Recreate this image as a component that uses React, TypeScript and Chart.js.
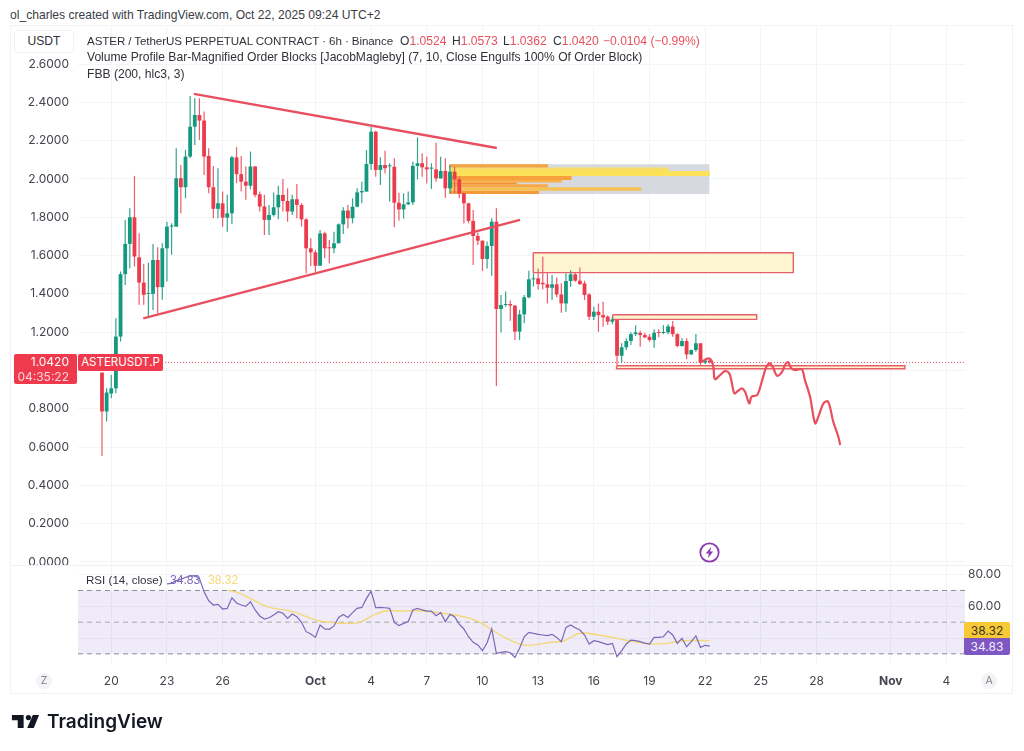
import React, { useEffect, useRef } from "react";
import { Chart, registerables } from "chart.js";

Chart.register(...registerables);

// Candles: 6h bars, index 0 = 19 Sep 12:00
const open = [0.989,0.786,0.88,0.907,1.177,1.503,1.661,1.8,1.591,1.459,1.4,1.4,1.577,1.435,1.638,1.751,1.751,2.004,1.957,2.117,2.273,2.334,2.305,2.12,1.957,1.844,1.873,1.798,1.821,2.113,2.025,1.986,1.965,2.065,1.92,1.856,1.786,1.812,1.852,1.917,1.885,1.83,1.894,1.864,1.789,1.638,1.617,1.547,1.716,1.641,1.638,1.664,1.763,1.835,1.795,1.855,1.93,1.934,2.078,2.247,2.047,2.073,2.066,2.064,1.876,1.841,1.868,1.878,2.068,2.082,2.061,2.054,2.05,2.003,2.042,1.951,2.038,1.998,1.925,1.873,1.781,1.702,1.678,1.582,1.65,1.777,1.321,1.342,1.347,1.339,1.203,1.293,1.382,1.476,1.481,1.458,1.45,1.432,1.45,1.397,1.35,1.467,1.502,1.469,1.455,1.397,1.281,1.307,1.289,1.281,1.255,1.263,1.077,1.121,1.154,1.19,1.196,1.185,1.176,1.159,1.2,1.196,1.199,1.23,1.19,1.128,1.154,1.084,1.107,1.142,1.041,1.0524];
const close = [0.786,0.885,0.907,1.177,1.503,1.661,1.8,1.595,1.459,1.395,1.403,1.577,1.435,1.638,1.751,1.757,2.004,1.957,2.117,2.273,2.334,2.305,2.117,1.957,1.844,1.873,1.798,1.821,2.113,2.025,1.986,1.965,2.065,1.917,1.856,1.786,1.812,1.852,1.917,1.885,1.83,1.894,1.865,1.789,1.638,1.617,1.547,1.716,1.638,1.638,1.664,1.763,1.835,1.795,1.855,1.93,1.937,2.078,2.247,2.047,2.073,2.056,2.069,1.876,1.841,1.868,1.878,2.068,2.082,2.061,2.05,2.057,2.003,2.042,1.951,2.038,1.998,1.925,1.873,1.781,1.702,1.678,1.582,1.65,1.777,1.321,1.342,1.347,1.339,1.203,1.293,1.382,1.476,1.481,1.451,1.45,1.432,1.45,1.397,1.35,1.467,1.502,1.469,1.451,1.394,1.281,1.307,1.289,1.277,1.255,1.267,1.077,1.121,1.154,1.19,1.199,1.185,1.173,1.159,1.197,1.196,1.199,1.23,1.19,1.128,1.154,1.084,1.107,1.142,1.041,1.052,1.042];
const high = [0.989,0.907,0.977,1.273,1.517,1.786,1.847,2.016,1.717,1.556,1.563,1.661,1.644,1.664,1.777,1.769,2.16,2.073,2.152,2.433,2.421,2.421,2.352,2.16,2.068,2.056,1.934,1.917,2.12,2.166,2.12,2.065,2.143,2.068,1.934,1.917,1.864,1.929,1.964,2.0,1.951,1.917,1.974,1.873,1.795,1.69,1.629,1.734,1.725,1.681,1.725,1.768,1.852,1.864,1.899,1.951,1.986,2.151,2.273,2.252,2.113,2.148,2.082,2.108,1.928,1.925,1.934,2.09,2.217,2.134,2.116,2.082,2.189,2.116,2.108,2.073,2.064,2.012,1.925,1.876,1.838,1.72,1.678,1.673,1.795,1.847,1.394,1.412,1.365,1.339,1.316,1.394,1.521,1.507,1.533,1.594,1.51,1.498,1.486,1.455,1.507,1.524,1.51,1.538,1.469,1.403,1.333,1.35,1.359,1.289,1.281,1.269,1.142,1.168,1.199,1.236,1.208,1.197,1.19,1.215,1.215,1.237,1.242,1.258,1.194,1.168,1.168,1.11,1.19,1.142,1.058,1.0573];
const low = [0.554,0.733,0.855,0.881,1.151,1.447,1.534,1.543,1.343,1.343,1.285,1.316,1.299,1.369,1.464,1.604,1.751,1.821,1.899,2.108,2.178,2.204,2.021,1.925,1.795,1.795,1.751,1.725,1.765,1.978,1.934,1.891,1.946,1.905,1.83,1.708,1.708,1.804,1.79,1.83,1.777,1.812,1.795,1.751,1.507,1.546,1.513,1.547,1.586,1.56,1.612,1.664,1.713,1.742,1.768,1.852,1.873,1.934,2.047,2.012,1.969,2.029,1.882,1.748,1.782,1.793,1.864,1.864,1.998,2.012,1.977,1.948,1.986,2.003,1.902,1.925,1.928,1.899,1.768,1.768,1.551,1.655,1.52,1.533,1.495,0.919,1.198,1.333,1.26,1.159,1.159,1.246,1.377,1.438,1.423,1.423,1.35,1.368,1.382,1.302,1.307,1.437,1.463,1.446,1.368,1.263,1.263,1.202,1.229,1.237,1.242,1.028,1.041,1.107,1.133,1.18,1.124,1.168,1.15,1.119,1.173,1.19,1.189,1.176,1.121,1.124,1.06,1.081,1.098,1.028,1.034,1.0362];

// RSI(14), one value per bar from bar 14
const rsiFirstBar = 14;
const rsiValues = [74.1,74.5,76.2,77,78.3,79.1,79.3,77.6,69.2,63.5,60.8,61.2,58.3,58.7,65.4,62.1,60.8,60,62.9,57.7,53.9,52,52.8,54.5,56.6,55.6,52.4,55.1,53.5,49.9,44,42.5,40.4,48.2,45.7,45.5,47.6,53,54.9,53,56,58.7,59.3,65,69.6,59.1,59.3,59.1,58.7,49.9,47.8,49.2,50.3,57.7,58.7,57.7,57,57,54.1,56,50.3,54.9,53.4,48.8,45.7,40.8,37.3,35.6,32,37,45.7,30.3,30.9,31.4,30.7,27.7,33.5,40.8,43.6,42.9,42.3,41.9,41.5,42.3,40.4,37.7,46.7,48.2,46.5,45,41.9,36.2,38.3,37.7,36.8,35.8,36.6,28.2,32,36.2,38.7,38.3,37.7,36.8,36.2,40.4,40.4,40.8,44.4,41.9,36.6,39.8,34.5,37.7,41.3,34.1,35.4,34.83];
// RSI moving average
const smaBars = [27.2,29.7,32.6,35.5,38.4,41.2,44.1,47,49.9,52.7,55.6,58.5,61.4,64.2,67.8,70.7,73.6,77.2,79.3,81.5,84.3,87.2,90.8,93.7,96.6,99.5,103,107.3,110.9,114.5,118.2,121.7,125.3,131];
const smaValues = [70.3,68.2,64,59.8,58.1,56.6,53.4,50.7,49.7,49.2,49.9,54.5,57.2,57,57.2,56.6,55.6,53.9,52.4,49.9,44.6,39.8,35.6,35.8,37.3,38.1,43,41.7,39.8,37.7,36.2,36.6,38.3,38.32];

// Hand-drawn forecast path
const forecastBars = [129.2,130.7,131.4,131.8,132.1,133.2,134.3,135.2,135.7,136.3,137.1,137.9,138.6,139.5,140,141.2,142.2,143.2,144,144.7,145.5,146.5,147.2,147.8,148.6,149.4,150.8,151.5,152.6,153.7,154.4,155.5,156.5,157.6,158.7,159.1];
const forecastPrices = [1.046,1.063,1.051,1.011,0.955,0.976,0.997,0.985,0.941,0.881,0.894,0.907,0.889,0.828,0.863,0.872,0.941,1.02,1.037,1.011,0.973,0.99,1.028,1.044,1.011,1.002,1.006,0.95,0.863,0.724,0.759,0.828,0.837,0.733,0.654,0.611];

// Triangle trend lines
const upperTrendBars = [19.8, 85.1];
const upperTrendPrices = [2.444, 2.162];
const lowerTrendBars = [8.9, 90.1];
const lowerTrendPrices = [1.272, 1.786];

// Order-block rectangles
const zoneStart = [92.95, 110.06, 110.9];
const zoneEnd = [149.0, 141.1, 173.06];
const zoneTop = [1.615, 1.291, 1.025];
const zoneBottom = [1.511, 1.267, 1.009];

// Volume-profile rows
const profileStart = 74.85;
const profileBoxEnd = 130.9;
const profileBoxTop = 2.077;
const profileBoxBottom = 1.922;
const profileRowTop = [2.077, 2.06, 2.042, 2.016, 1.995, 1.981, 1.972, 1.957, 1.939];
const profileRowBottom = [2.06, 2.042, 2.016, 1.995, 1.981, 1.972, 1.957, 1.939, 1.922];
const profileRowEnd = [96.1, 122.1, 131.0, 101.2, 99.1, 89.4, 96.1, 116.2, 94.2];
const profileRowColors = ["#f5a33c", "#f8de62", "#fbe258", "#f7a13a", "#f8b04a", "#f68f2f", "#f9a848", "#f6c155", "#f49a3a"];

// Axes
const lastPrice = 1.042;
const priceTicks = [0, 0.2, 0.4, 0.6, 0.8, 1.0, 1.2, 1.4, 1.6, 1.8, 2.0, 2.2, 2.4, 2.6];
const rsiTicks = [40, 60, 80];
const rsiBandLevels = [70, 50, 30];
const timeTickBars = [2, 14, 26, 46, 58, 70, 82, 94, 106, 118, 130, 142, 154, 170, 182];
const timeTickLabels = ["20", "23", "26", "Oct", "4", "7", "10", "13", "16", "19", "22", "25", "28", "Nov", "4"];

const UP = "#14997f";
const DOWN = "#ec3b4c";
const DRAW = "#e84f5f";
const FONT = "Inter, 'Liberation Sans', sans-serif";
const TEXT_FONT = "'Liberation Sans', Inter, sans-serif";
const GRID = "#f3f4f6";
const X_MIN = -5.17;
const X_MAX = 186;

const ring = (x0: number, x1: number, top: number, bottom: number) => [
  { x: x0, y: top }, { x: x1, y: top }, { x: x1, y: bottom }, { x: x0, y: bottom }, { x: x0, y: top },
];
const zip = (xs: number[], ys: number[]) => xs.map((x, i) => ({ x, y: ys[i] }));
const span = (y: number) => [{ x: X_MIN, y }, { x: X_MAX, y }];
const thin = { pointRadius: 0, pointHoverRadius: 0 };

const noPad = (s: any) => { s.paddingTop = 0; s.paddingBottom = 0; s.paddingLeft = 0; s.paddingRight = 0; };

const xScale = (showLabels: boolean) => ({
  type: "linear",
  min: X_MIN,
  max: X_MAX,
  offset: false,
  display: true,
  border: { display: false },
  grid: { color: GRID, offset: false, drawTicks: false, lineWidth: 1 },
  afterBuildTicks: (s: any) => { s.ticks = timeTickBars.map((value) => ({ value })); },
  afterFit: (s: any) => { s.height = showLabels ? 30 : 0; noPad(s); },
  ticks: {
    display: showLabels,
    autoSkip: false,
    maxRotation: 0,
    padding: 10,
    color: "#42454e",
    font: (ctx: any) => {
      const label = timeTickLabels[timeTickBars.indexOf(ctx.tick?.value)];
      return { family: FONT, size: 12, weight: label === "Oct" || label === "Nov" ? "700" : "400" };
    },
    callback: (v: number) => timeTickLabels[timeTickBars.indexOf(v)],
  },
});

const basePlugins = { legend: { display: false }, tooltip: { enabled: false } };

export default function App() {
  const mainRef = useRef<HTMLCanvasElement>(null);
  const rsiRef = useRef<HTMLCanvasElement>(null);

  useEffect(() => {
    const bars = open.map((_, i) => i);
    const colors = bars.map((i) => (close[i] >= open[i] ? UP : DOWN));
    const wickColors = bars.map((i) => (close[i] >= open[i] ? "#2fa58d" : "#ee5a68"));

    const main = new Chart(mainRef.current!, {
      type: "bar",
      data: {
        datasets: [
          { type: "line", order: 60, data: ring(profileStart, profileBoxEnd, profileBoxTop, profileBoxBottom), fill: "shape", backgroundColor: "#d6d9df", borderWidth: 0, ...thin },
          ...profileRowEnd.map((end, i) => ({ type: "line", order: 50, data: ring(profileStart, end, profileRowTop[i], profileRowBottom[i]), fill: "shape", backgroundColor: profileRowColors[i], borderWidth: 0, ...thin })),
          ...zoneEnd.map((end, i) => ({ type: "line", order: 40, data: ring(zoneStart[i], end, zoneTop[i], zoneBottom[i]), fill: "shape", backgroundColor: "#fdf5cf", borderColor: "#e5606b", borderWidth: 1.4, ...thin })),
          { type: "line", order: 30, data: span(lastPrice), borderColor: "#ec5a68", borderWidth: 1, borderDash: [1, 2], ...thin },
          { type: "bar", order: 21, grouped: false, barThickness: 1.2, inflateAmount: 0, backgroundColor: wickColors, data: bars.map((i) => ({ x: i, y: [low[i], high[i]] })) },
          { type: "bar", order: 20, grouped: false, barThickness: 3.8, inflateAmount: 0, minBarLength: 1, backgroundColor: colors, data: bars.map((i) => ({ x: i, y: [Math.min(open[i], close[i]), Math.max(open[i], close[i])] })) },
          { type: "line", order: 5, data: zip(upperTrendBars, upperTrendPrices), borderColor: DRAW, borderWidth: 2.4, ...thin },
          { type: "line", order: 5, data: zip(lowerTrendBars, lowerTrendPrices), borderColor: DRAW, borderWidth: 2.4, ...thin },
          { type: "line", order: 4, data: zip(forecastBars, forecastPrices), borderColor: DRAW, borderWidth: 2.2, tension: 0.35, ...thin },
        ] as any,
      },
      options: {
        responsive: false,
        animation: false,
        events: [],
        layout: { padding: { left: 0, right: 48, top: 0, bottom: 0 } },
        plugins: basePlugins,
        scales: {
          x: xScale(false) as any,
          y: {
            type: "linear",
            position: "left",
            min: -0.0157,
            max: 2.804,
            border: { display: false },
            grid: { color: GRID, drawTicks: false },
            afterBuildTicks: (s: any) => { s.ticks = priceTicks.map((value) => ({ value })); },
            afterFit: (s: any) => { s.width = 68; noPad(s); },
            ticks: {
              autoSkip: false,
              padding: 9,
              color: "#42454e",
              font: { family: FONT, size: 12 },
              callback: (v: any) => Number(v).toFixed(4),
            },
          },
        },
      },
    });

    const rsi = new Chart(rsiRef.current!, {
      type: "line",
      data: {
        datasets: [
          { order: 30, data: span(rsiBandLevels[0]), fill: { value: rsiBandLevels[2] }, backgroundColor: "rgba(126,87,194,0.12)", borderColor: "#8a8d96", borderWidth: 1, borderDash: [5, 4], ...thin },
          { order: 29, data: span(rsiBandLevels[1]), borderColor: "#a4a6ae", borderWidth: 1, borderDash: [5, 4], ...thin },
          { order: 28, data: span(rsiBandLevels[2]), borderColor: "#8a8d96", borderWidth: 1, borderDash: [5, 4], ...thin },
          { order: 10, data: zip(smaBars, smaValues), borderColor: "#f3d97a", borderWidth: 1.4, tension: 0.35, ...thin },
          { order: 5, data: rsiValues.map((y, i) => ({ x: rsiFirstBar + i, y })), borderColor: "#7b68b8", borderWidth: 1.2, ...thin },
        ] as any,
      },
      options: {
        responsive: false,
        animation: false,
        events: [],
        layout: { padding: { left: 68, right: 0, top: 0, bottom: 0 } },
        plugins: basePlugins,
        scales: {
          x: xScale(true) as any,
          y: {
            type: "linear",
            position: "right",
            min: 23.6,
            max: 86.06,
            border: { display: false },
            grid: { color: GRID, drawTicks: false },
            afterBuildTicks: (s: any) => { s.ticks = rsiTicks.map((value) => ({ value })); },
            afterFit: (s: any) => { s.width = 48; noPad(s); },
            ticks: {
              autoSkip: false,
              padding: 3,
              color: "#42454e",
              font: { family: FONT, size: 12 },
              callback: (v: any) => (Number(v) === 40 ? "" : Number(v).toFixed(2)),
            },
          },
        },
      },
    });

    return () => { main.destroy(); rsi.destroy(); };
  }, []);

  const abs = (left: number, top: number, extra: any = {}): any => ({ position: "absolute", left, top, whiteSpace: "nowrap", ...extra });
  const text: any = { fontFamily: TEXT_FONT, fontSize: 12.1, lineHeight: "16px", color: "#2f323a" };
  const red = { color: "#e8505f" };

  return (
    <div style={{ position: "absolute", left: 0, top: 0, width: 1024, height: 751, background: "#fff", overflow: "hidden", fontFamily: FONT }}>
      <div style={abs(10, 7, { ...text, color: "#3a3d45" })}>ol_charles created with TradingView.com, Oct 22, 2025 09:24 UTC+2</div>

      <div style={abs(10, 25, { width: 1003, height: 669, border: "1px solid #f1f2f5", boxSizing: "border-box" })} />
      <canvas ref={mainRef} width={1003} height={540} style={abs(10, 25)} />
      <canvas ref={rsiRef} width={1003} height={129} style={abs(10, 565)} />
      <div style={abs(10, 565, { width: 1003, height: 1, background: "#eef0f3" })} />

      <div style={abs(14, 30, { ...text, width: 60, height: 23, border: "1px solid #f1f2f5", borderRadius: 4, boxSizing: "border-box", background: "#fff", textAlign: "center", lineHeight: "21px" })}>USDT</div>

      <div style={abs(87, 33, { ...text, fontSize: 11.6, letterSpacing: -0.1 })}>ASTER / TetherUS PERPETUAL CONTRACT · 6h · Binance</div>
      <div style={abs(400, 33, text)}>O<span style={red}>1.0524</span></div>
      <div style={abs(452, 33, text)}>H<span style={red}>1.0573</span></div>
      <div style={abs(503, 33, text)}>L<span style={red}>1.0362</span></div>
      <div style={abs(553, 33, text)}>C<span style={red}>1.0420</span></div>
      <div style={abs(603, 33, { ...text, ...red })}>−0.0104 (−0.99%)</div>
      <div style={abs(87, 49, text)}>Volume Profile Bar-Magnified Order Blocks [JacobMagleby] (7, 10, Close Engulfs 100% Of Order Block)</div>
      <div style={abs(87, 66, text)}>FBB (200, hlc3, 3)</div>

      <div style={abs(14, 354, { width: 63, height: 30, background: "#ee3a4c", borderRadius: 2, color: "#fff", fontSize: 12, lineHeight: "15px", textAlign: "right", paddingRight: 8, boxSizing: "border-box" })}>
        1.0420<br /><span style={{ color: "#fbd5d9" }}>04:35:22</span>
      </div>
      <div style={abs(78, 354, { width: 85, height: 17, background: "#ee3a4c", borderRadius: 2, color: "#fff", fontSize: 11.5, lineHeight: "17px", textAlign: "center" })}>ASTERUSDT.P</div>

      <svg style={abs(699, 542)} width={21} height={21} viewBox="0 0 21 21">
        <circle cx="10.5" cy="10.5" r="9.2" fill="#fff" stroke="#8a3db0" strokeWidth="1.8" />
        <path d="M12.2 4.8 6.8 11.4h3.1L8.9 16.2l5.3-6.7h-3.1z" fill="#8a3db0" />
      </svg>

      <div style={abs(86, 572, { ...text, fontSize: 11.6 })}>RSI (14, close)</div>
      <div style={abs(170, 572, { ...text, color: "#7b68b8" })}>34.83</div>
      <div style={abs(208, 572, { ...text, color: "#f3d97a" })}>38.32</div>

      <div style={abs(964, 622, { width: 46, height: 17, background: "#f6c935", borderRadius: "2px 2px 0 0", color: "#3a3420", fontSize: 12, lineHeight: "17px", textAlign: "center" })}>38.32</div>
      <div style={abs(964, 638, { width: 46, height: 17, background: "#7e57c2", borderRadius: "0 0 2px 2px", color: "#f2eefb", fontSize: 12, lineHeight: "17px", textAlign: "center" })}>34.83</div>

      <div style={abs(36, 673, { width: 16, height: 16, borderRadius: 8, background: "#f2f3f5", color: "#80838c", fontSize: 10.5, lineHeight: "16px", textAlign: "center" })}>Z</div>
      <div style={abs(981, 673, { width: 16, height: 16, borderRadius: 8, background: "#f2f3f5", color: "#80838c", fontSize: 10.5, lineHeight: "16px", textAlign: "center" })}>A</div>

      <svg style={abs(11, 714)} width={29} height={15} viewBox="0 0 29 16">
        <path d="M12.5 1H0v5.6h6.2V15h6.3z" fill="#131722" />
        <circle cx="17.6" cy="3.8" r="2.8" fill="#131722" />
        <path d="M22.3 1H29l-5.7 14h-7z" fill="#131722" />
      </svg>
      <div style={abs(47, 708, { fontSize: 19, lineHeight: "28px", fontWeight: 600, color: "#131722" })}>TradingView</div>
    </div>
  );
}
